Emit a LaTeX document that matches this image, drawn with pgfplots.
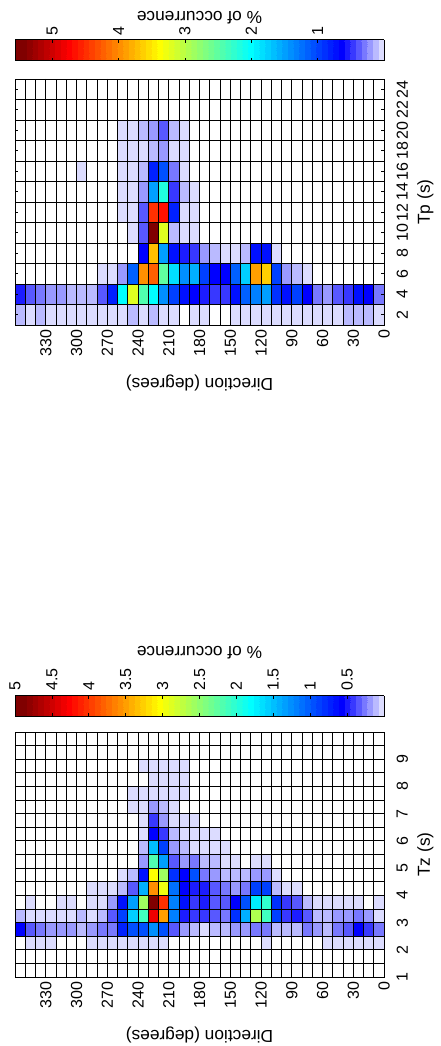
\documentclass[border=0pt]{standalone}
\usepackage{fontspec}
\setmainfont{Liberation Sans}
\usepackage{graphicx}
\usepackage{pgfplots}
\usepackage{pgfplotstable}
\pgfplotsset{compat=1.18}

% jet (64) with the lowest entries lightened towards lavender
\pgfplotsset{
  colormap={occjet}{
    rgb255=(220,220,255) rgb255=(186,186,255) rgb255=(153,153,255) rgb255=(120,120,255)
    rgb255=(88,88,255) rgb255=(56,56,255) rgb255=(28,28,255) rgb255=(0,0,255)
    rgb255=(0,16,255) rgb255=(0,32,255) rgb255=(0,48,255) rgb255=(0,64,255)
    rgb255=(0,80,255) rgb255=(0,96,255) rgb255=(0,112,255) rgb255=(0,128,255)
    rgb255=(0,143,255) rgb255=(0,159,255) rgb255=(0,175,255) rgb255=(0,191,255)
    rgb255=(0,207,255) rgb255=(0,223,255) rgb255=(0,239,255) rgb255=(0,255,255)
    rgb255=(16,255,239) rgb255=(32,255,223) rgb255=(48,255,207) rgb255=(64,255,191)
    rgb255=(80,255,175) rgb255=(96,255,159) rgb255=(112,255,143) rgb255=(128,255,128)
    rgb255=(143,255,112) rgb255=(159,255,96) rgb255=(175,255,80) rgb255=(191,255,64)
    rgb255=(207,255,48) rgb255=(223,255,32) rgb255=(239,255,16) rgb255=(255,255,0)
    rgb255=(255,239,0) rgb255=(255,223,0) rgb255=(255,207,0) rgb255=(255,191,0)
    rgb255=(255,175,0) rgb255=(255,159,0) rgb255=(255,143,0) rgb255=(255,128,0)
    rgb255=(255,112,0) rgb255=(255,96,0) rgb255=(255,80,0) rgb255=(255,64,0)
    rgb255=(255,48,0) rgb255=(255,32,0) rgb255=(255,16,0) rgb255=(255,0,0)
    rgb255=(239,0,0) rgb255=(223,0,0) rgb255=(207,0,0) rgb255=(191,0,0)
    rgb255=(175,0,0) rgb255=(159,0,0) rgb255=(143,0,0) rgb255=(128,0,0)
    rgb255=(128,0,0)
  },
  every axis/.append style={
    /pgf/number format/assume math mode=true,
    tick label style={font=\fontsize{12}{14}\selectfont},
    label style={font=\fontsize{13}{15}\selectfont},
  },
  heat/.style={
    scale only axis, height=276.75pt,
    ymin=0, ymax=360,
    ytick={0,30,...,330}, minor ytick={0,10,...,360},
    major grid style={black, line width=0.6pt},
    minor grid style={black, line width=0.6pt},
    minor tick length=0pt, major tick length=2.5pt, tick align=inside,
    tick style={black, line width=0.6pt},
    axis line style={line width=0.7pt},
    axis on top, clip marker paths=true,
    xticklabel style={yshift=-6pt},
    ylabel={Direction (degrees)},
    ylabel style={yshift=7pt},
    colormap name=occjet, colormap access=piecewise constant,
    point meta min=0,
    colorbar,
    colorbar shift/.style={xshift=11.25pt},
    colorbar style={
      width=15.75pt, tick align=inside, ytick pos=both, yticklabel pos=right,
      major tick length=2.5pt, tick style={black, line width=0.6pt},
      axis line style={line width=0.7pt},
      xticklabel style={yshift=0pt},
      ylabel={\% of occurrence},
      ylabel style={yshift=0pt},
    },
  },
}

% one filled cell of each grid, sized to the bins
\pgfdeclareplotmark{tzcell}{\pgfpathrectangle{\pgfpoint{-5.25pt}{-3.95pt}}{\pgfpoint{10.5pt}{7.9pt}}\pgfusepathqfill}
\pgfdeclareplotmark{tpcell}{\pgfpathrectangle{\pgfpoint{-7.83pt}{-3.95pt}}{\pgfpoint{15.66pt}{7.9pt}}\pgfusepathqfill}

% Tz bin centre, direction bin centre, % of occurrence (empty bins left out)
\pgfplotstableread{
t d v
8.75 235 0.04
8.75 225 0.04
8.75 215 0.04
8.75 205 0.04
8.75 195 0.04
8.25 225 0.04
8.25 215 0.04
8.25 205 0.04
8.25 195 0.04
7.75 245 0.04
7.75 235 0.04
7.75 225 0.04
7.75 215 0.04
7.75 205 0.04
7.75 195 0.04
7.25 245 0.04
7.25 235 0.04
7.25 225 0.20
7.25 215 0.12
7.25 205 0.04
6.75 235 0.04
6.75 225 0.43
6.75 215 0.20
6.75 205 0.04
6.75 195 0.04
6.75 185 0.04
6.25 235 0.04
6.25 225 0.59
6.25 215 0.43
6.25 205 0.12
6.25 195 0.04
6.25 185 0.04
6.25 175 0.04
6.25 165 0.04
5.75 235 0.12
5.75 225 1.52
5.75 215 0.90
5.75 205 0.20
5.75 195 0.12
5.75 185 0.04
5.75 175 0.04
5.75 165 0.04
5.75 155 0.04
5.25 235 0.20
5.25 225 2.23
5.25 215 1.37
5.25 205 0.35
5.25 195 0.20
5.25 185 0.27
5.25 175 0.12
5.25 165 0.12
5.25 155 0.04
5.25 145 0.04
5.25 125 0.04
5.25 115 0.04
4.75 255 0.04
4.75 245 0.12
4.75 235 0.66
4.75 225 3.01
4.75 215 2.54
4.75 205 0.82
4.75 195 0.59
4.75 185 0.98
4.75 175 0.27
4.75 165 0.20
4.75 155 0.12
4.75 145 0.12
4.75 135 0.12
4.75 125 0.20
4.75 115 0.20
4.75 105 0.04
4.25 285 0.04
4.25 275 0.04
4.25 265 0.04
4.25 255 0.12
4.25 245 0.35
4.25 235 1.45
4.25 225 3.55
4.25 215 2.93
4.25 205 1.13
4.25 195 0.59
4.25 185 0.51
4.25 175 0.51
4.25 165 0.35
4.25 155 0.27
4.25 145 0.20
4.25 135 0.27
4.25 125 0.90
4.25 115 0.90
4.25 105 0.12
4.25 95 0.04
4.25 85 0.04
3.75 345 0.04
3.75 315 0.04
3.75 305 0.04
3.75 285 0.04
3.75 275 0.04
3.75 265 0.20
3.75 255 0.66
3.75 245 1.37
3.75 235 2.54
3.75 225 4.96
3.75 215 4.02
3.75 205 1.21
3.75 195 0.66
3.75 185 0.43
3.75 175 0.51
3.75 165 0.35
3.75 155 0.35
3.75 145 0.59
3.75 135 0.98
3.75 125 1.76
3.75 115 2.07
3.75 105 0.82
3.75 95 0.43
3.75 85 0.35
3.75 75 0.12
3.75 65 0.04
3.75 55 0.04
3.75 45 0.04
3.75 35 0.04
3.75 25 0.04
3.75 5 0.04
3.25 355 0.12
3.25 345 0.04
3.25 335 0.04
3.25 325 0.04
3.25 315 0.04
3.25 305 0.04
3.25 295 0.12
3.25 285 0.04
3.25 275 0.12
3.25 265 0.35
3.25 255 0.90
3.25 245 1.60
3.25 235 2.15
3.25 225 4.34
3.25 215 3.48
3.25 205 1.21
3.25 195 0.51
3.25 185 0.43
3.25 175 0.43
3.25 165 0.35
3.25 155 0.27
3.25 145 0.82
3.25 135 1.45
3.25 125 2.62
3.25 115 2.15
3.25 105 0.90
3.25 95 0.43
3.25 85 0.51
3.25 75 0.35
3.25 65 0.12
3.25 55 0.12
3.25 45 0.20
3.25 35 0.20
3.25 25 0.27
3.25 15 0.20
3.25 5 0.04
2.75 355 0.59
2.75 345 0.35
2.75 335 0.27
2.75 325 0.20
2.75 315 0.20
2.75 305 0.20
2.75 295 0.12
2.75 285 0.20
2.75 275 0.27
2.75 265 0.27
2.75 255 0.74
2.75 245 0.98
2.75 235 0.98
2.75 225 1.29
2.75 215 0.98
2.75 205 0.35
2.75 195 0.20
2.75 185 0.12
2.75 175 0.04
2.75 165 0.12
2.75 155 0.12
2.75 145 0.20
2.75 135 0.20
2.75 125 0.27
2.75 115 0.27
2.75 105 0.12
2.75 95 0.12
2.75 85 0.12
2.75 75 0.27
2.75 65 0.20
2.75 55 0.12
2.75 45 0.27
2.75 35 0.35
2.75 25 0.59
2.75 15 0.43
2.75 5 0.27
2.25 345 0.04
2.25 335 0.04
2.25 325 0.04
2.25 285 0.04
2.25 275 0.04
2.25 265 0.04
2.25 255 0.04
2.25 245 0.04
2.25 235 0.04
2.25 225 0.04
2.25 215 0.04
2.25 115 0.04
2.25 55 0.04
2.25 45 0.04
2.25 35 0.04
2.25 25 0.04
2.25 15 0.04
2.25 5 0.04
}\tztable

% Tp bin centre, direction bin centre, % of occurrence
\pgfplotstableread{
t d v
20 255 0.04
20 245 0.04
20 235 0.13
20 225 0.22
20 215 0.39
20 205 0.13
20 195 0.04
18 255 0.04
18 245 0.04
18 235 0.04
18 225 0.13
18 215 0.22
18 205 0.04
18 195 0.04
16 295 0.04
16 255 0.04
16 245 0.04
16 235 0.13
16 225 0.83
16 215 1.09
16 205 0.30
16 195 0.04
14 255 0.04
14 245 0.04
14 235 0.22
14 225 1.52
14 215 2.22
14 205 0.48
14 195 0.13
14 185 0.04
12 255 0.04
12 245 0.04
12 235 0.39
12 225 4.47
12 215 4.65
12 205 0.83
12 195 0.04
12 185 0.04
10 245 0.04
10 235 0.39
10 225 5.52
10 215 3.17
10 205 0.13
10 195 0.04
10 185 0.04
8 235 0.65
8 225 3.69
8 215 1.52
8 205 0.74
8 195 0.56
8 185 0.48
8 175 0.22
8 165 0.13
8 155 0.04
8 145 0.04
8 135 0.13
8 125 0.74
8 115 0.74
8 105 0.04
6 275 0.04
6 265 0.04
6 255 0.22
6 245 1.17
6 235 3.95
6 225 4.21
6 215 2.56
6 205 1.87
6 195 1.43
6 185 1.61
6 175 1.00
6 165 0.65
6 155 0.65
6 145 1.17
6 135 1.78
6 125 3.87
6 115 3.61
6 105 1.00
6 95 0.22
6 85 0.13
6 75 0.04
4 355 0.56
4 345 0.39
4 335 0.30
4 325 0.22
4 315 0.22
4 305 0.13
4 295 0.13
4 285 0.13
4 275 0.39
4 265 0.83
4 255 2.04
4 245 3.17
4 235 2.48
4 225 2.04
4 215 1.43
4 205 1.00
4 195 0.74
4 185 0.65
4 175 0.56
4 165 0.48
4 155 0.48
4 145 0.74
4 135 1.17
4 125 1.35
4 115 1.52
4 105 0.91
4 95 0.74
4 85 1.00
4 75 0.65
4 65 0.30
4 55 0.22
4 45 0.39
4 35 0.48
4 25 0.74
4 15 0.65
4 5 0.30
2 355 0.13
2 345 0.04
2 335 0.13
2 325 0.04
2 315 0.04
2 305 0.04
2 295 0.04
2 285 0.04
2 275 0.04
2 265 0.04
2 255 0.04
2 245 0.13
2 235 0.04
2 225 0.13
2 215 0.04
2 205 0.04
2 185 0.04
2 175 0.04
2 145 0.04
2 135 0.04
2 125 0.04
2 115 0.04
2 105 0.04
2 95 0.04
2 85 0.04
2 75 0.04
2 65 0.04
2 55 0.04
2 45 0.04
2 35 0.13
2 25 0.13
2 15 0.13
2 5 0.04
}\tptable

\begin{document}
\rotatebox{90}{%
\begin{tikzpicture}
\useasboundingbox (-51.75pt,-42pt) rectangle (732.75pt,288pt);

% ---------------- Tz ----------------
\begin{axis}[heat,
  at={(0pt,0pt)}, anchor=south west,
  width=183.75pt,
  xmin=1, xmax=10, xtick={1,...,9}, minor xtick={1,1.5,...,10},
  grid=both,
  xlabel={Tz (s)},
  point meta max=5,
  colorbar style={ytick={0.5,1,...,5}},
]
\addplot[scatter, only marks, mark=tzcell, point meta=explicit,
  scatter/use mapped color={fill=mapped color}]
  table[x=t, y=d, meta=v] {\tztable};
\end{axis}

% ---------------- Tp ----------------
\begin{axis}[heat,
  at={(489pt,0pt)}, anchor=south west,
  width=184.5pt,
  xmin=1, xmax=25, xtick={2,4,...,24}, minor xtick={1,3,...,25},
  xminorgrids, yminorgrids, ymajorgrids, xmajorgrids=false,
  xlabel={Tp (s)},
  point meta max=5.56,
  colorbar style={ytick={1,...,5}, ylabel style={yshift=5pt}},
]
\addplot[scatter, only marks, mark=tpcell, point meta=explicit,
  scatter/use mapped color={fill=mapped color}]
  table[x=t, y=d, meta=v] {\tptable};
\end{axis}
\end{tikzpicture}%
}
\end{document}
